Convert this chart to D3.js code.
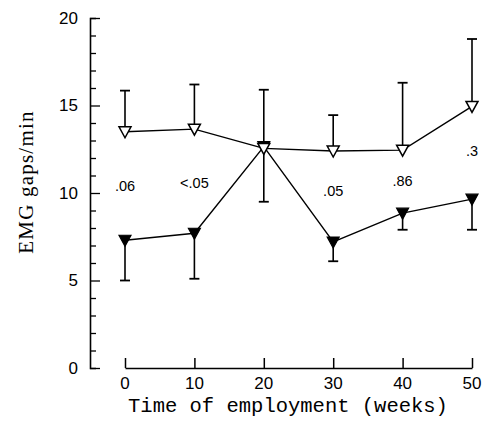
<!DOCTYPE html>
<html>
<head>
<meta charset="utf-8">
<script src="https://cdn.jsdelivr.net/npm/d3@7"></script>
<style>
  html, body { margin: 0; padding: 0; background: #fff; }
  svg { display: block; }
</style>
</head>
<body>
<svg id="chart" width="485" height="434"></svg>
<script>
// Time of employment (weeks)
const weeks = [0, 10, 20, 30, 40, 50];
// Open triangles: mean and upper SD
const openMean = [13.5, 13.65, 12.55, 12.4, 12.45, 14.95];
const openUpper = [15.85, 16.2, 15.9, 14.45, 16.3, 18.8];
// Filled triangles: mean and lower SD
const filledMean = [7.3, 7.7, 12.65, 7.2, 8.85, 9.65];
const filledLower = [5.0, 5.1, 9.5, 6.1, 7.9, 7.9];
// p-values between groups
const pLabels = [".06", "<.05", "", ".05", ".86", ".3"];
const pLabelY = [10.4, 10.6, null, 10.1, 10.7, 12.4];
const yTicks = [0, 5, 10, 15, 20];

const SANS = "'Liberation Sans', Arial, sans-serif";
const SERIF = "'Liberation Serif', 'Times New Roman', serif";
const MONO = "'Liberation Mono', 'Courier New', monospace";

const svg = d3.select("#chart");
const x = d3.scaleLinear().domain([0, 50]).range([125, 472]);
const y = d3.scaleLinear().domain([0, 20]).range([368, 18]);
const yAxisX = 90;

// Y axis with inward ticks, longer at every 5
const yAxis = d3.axisRight(y).tickValues(d3.range(0, 21, 1)).tickFormat("").tickSizeOuter(0)
  .tickSize(6);
const gy = svg.append("g").attr("transform", `translate(${yAxisX},0)`).call(yAxis);
gy.select(".domain").attr("stroke", "#000").attr("stroke-width", 1.6);
gy.selectAll(".tick line").attr("stroke", "#000").attr("stroke-width", 1.3)
  .attr("x2", d => d % 5 === 0 ? 10 : 6);
svg.append("g").selectAll("text").data(yTicks).join("text")
  .attr("x", 78).attr("y", d => y(d)).attr("dy", "0.35em")
  .attr("text-anchor", "end")
  .attr("font-family", SANS).attr("font-size", 17)
  .text(d => d);

// X axis, detached from the y axis, ticks pointing up
const xAxis = d3.axisTop(x).tickValues(weeks).tickFormat("").tickSize(10).tickSizeOuter(0);
const gx = svg.append("g").attr("transform", "translate(0,368)").call(xAxis);
gx.select(".domain").attr("stroke", "#000").attr("stroke-width", 1.6);
gx.selectAll(".tick line").attr("stroke", "#000").attr("stroke-width", 1.5);
svg.append("g").selectAll("text").data(weeks).join("text")
  .attr("x", d => x(d)).attr("y", 389)
  .attr("text-anchor", "middle")
  .attr("font-family", SANS).attr("font-size", 17)
  .text(d => d);

// Axis titles
svg.append("text")
  .attr("transform", `translate(33,182) rotate(-90)`)
  .attr("text-anchor", "middle")
  .attr("font-family", SERIF).attr("font-size", 21)
  .attr("letter-spacing", 1.2)
  .text("EMG gaps/min");
svg.append("text")
  .attr("x", 288).attr("y", 412)
  .attr("text-anchor", "middle")
  .attr("font-family", MONO).attr("font-size", 20.5)
  .text("Time of employment (weeks)");

const ink = "#000";
const line = d3.line().x(d => x(d[0])).y(d => y(d[1]));

// Error bars
function errBars(means, ends) {
  const g = svg.append("g");
  weeks.forEach((w, i) => {
    g.append("line").attr("x1", x(w)).attr("x2", x(w)).attr("y1", y(means[i])).attr("y2", y(ends[i]))
      .attr("stroke", ink).attr("stroke-width", 1.6);
    g.append("line").attr("x1", x(w) - 5).attr("x2", x(w) + 5).attr("y1", y(ends[i])).attr("y2", y(ends[i]))
      .attr("stroke", ink).attr("stroke-width", 1.8);
  });
}
errBars(filledMean, filledLower);
errBars(openMean, openUpper);

// Connecting lines
svg.append("path").datum(weeks.map((w, i) => [w, filledMean[i]])).attr("d", line)
  .attr("fill", "none").attr("stroke", ink).attr("stroke-width", 1.4);
svg.append("path").datum(weeks.map((w, i) => [w, openMean[i]])).attr("d", line)
  .attr("fill", "none").attr("stroke", ink).attr("stroke-width", 1.4);

// Downward triangle markers
const tri = "M-6,-5L6,-5L0,6Z";
svg.append("g").selectAll("path").data(weeks).join("path")
  .attr("transform", (d, i) => `translate(${x(d)},${y(filledMean[i])})`)
  .attr("d", tri).attr("fill", ink).attr("stroke", ink).attr("stroke-width", 1.2);
svg.append("g").selectAll("path").data(weeks).join("path")
  .attr("transform", (d, i) => `translate(${x(d)},${y(openMean[i])})`)
  .attr("d", tri).attr("fill", "#fff").attr("stroke", ink).attr("stroke-width", 1.5);

// p-value labels
svg.append("g").selectAll("text").data(weeks.filter((w, i) => pLabels[i] !== "")).join("text")
  .attr("x", d => x(d)).attr("y", d => y(pLabelY[weeks.indexOf(d)]))
  .attr("dy", "0.35em").attr("text-anchor", "middle")
  .attr("font-family", SANS).attr("font-size", 14.5)
  .text(d => pLabels[weeks.indexOf(d)]);
</script>
</body>
</html>
